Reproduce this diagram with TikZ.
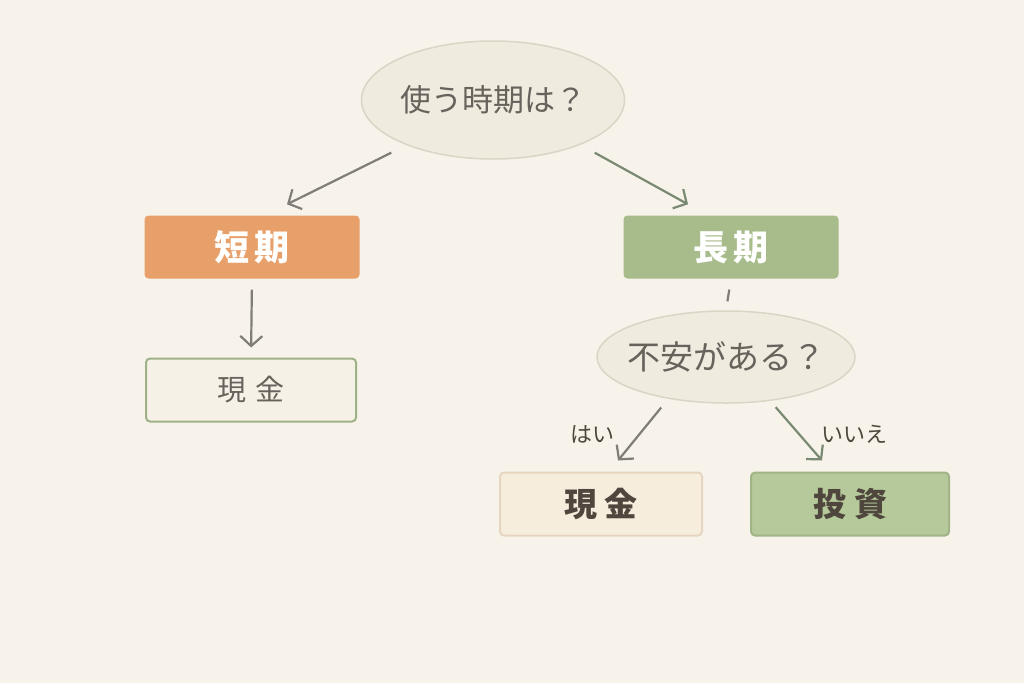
\documentclass[tikz,border=0pt]{standalone}
\usepackage{fontspec}
\usepackage{tikz}
\usetikzlibrary{shapes.geometric}
\usetikzlibrary{arrows.meta}
\newfontfamily\jpfont{Noto Sans CJK JP}

\definecolor{paper}{HTML}{F7F3EB}
\definecolor{bubblefill}{HTML}{F0EBDF}
\definecolor{bubbleline}{HTML}{DCD5C5}
\definecolor{softtext}{HTML}{67625C}
\definecolor{darktext}{HTML}{4F463D}
\definecolor{arrowgray}{HTML}{807C77}
\definecolor{arrowgreen}{HTML}{7A8A72}
\definecolor{shortfill}{HTML}{E8A06B}
\definecolor{longfill}{HTML}{A8BC8B}
\definecolor{cashfill}{HTML}{F6F1E6}
\definecolor{cashline}{HTML}{9FB287}
\definecolor{safefill}{HTML}{F7EDDD}
\definecolor{safeline}{HTML}{E6D6BF}
\definecolor{investfill}{HTML}{B6C99A}
\definecolor{investline}{HTML}{A0B487}

\tikzset{
  question/.style={ellipse, draw=bubbleline, line width=1.5pt, fill=bubblefill,
    inner sep=0pt, text=softtext, font=\jpfont\fontsize{31}{34}\selectfont},
  choice/.style={rectangle, rounded corners=4pt, inner sep=0pt,
    minimum height=63pt, text=white, font=\jpfont\bfseries\fontsize{35}{38}\selectfont},
  result/.style={rectangle, rounded corners=4pt, inner sep=0pt, line width=2pt,
    minimum height=63pt},
  arr/.style={line width=2.2pt, arrowgray, -{Straight Barb[length=10pt,width=22pt]}},
  answer/.style={inner sep=0pt, text=darktext, font=\jpfont\fontsize{22}{25}\selectfont}
}

\begin{document}
\begin{tikzpicture}[x=1pt,y=-1pt]
  \fill[paper] (0,0) rectangle (1024,683);
  \useasboundingbox (0,0) rectangle (1024,683);

  % first question
  \node[question, minimum width=262pt, minimum height=118pt] (when) at (493,100) {使う時期は？};

  \node[choice, fill=shortfill, minimum width=215pt] (short) at (252,247) {短\hspace{5pt}期};
  \node[choice, fill=longfill, minimum width=215pt] (long) at (731,247) {長\hspace{5pt}期};

  \node[result, draw=cashline, fill=cashfill, minimum width=210pt, text=softtext,
    font=\jpfont\fontsize{29}{31}\selectfont] (cashshort) at (251,390) {現\hspace{10pt}金};

  % second question
  \node[question, inner xsep=-9pt, minimum width=258pt, minimum height=92pt,
    font=\jpfont\fontsize{33}{35}\selectfont] (worry) at (726,357) {不安がある？};

  \node[result, draw=safeline, fill=safefill, minimum width=202pt, text=darktext,
    font=\jpfont\bfseries\fontsize{33}{35}\selectfont] (cashlong) at (601,504) {現\hspace{8pt}金};
  \node[result, draw=investline, fill=investfill, minimum width=198pt, text=darktext,
    font=\jpfont\bfseries\fontsize{33}{35}\selectfont] (invest) at (850,504) {投\hspace{8pt}資};

  % connectors
  \draw[arr] ([shift={(-14pt,-8pt)}]when.207) -- ([shift={(35pt,11pt)}]short.north);
  \draw[arr, arrowgreen] ([shift={(14pt,-8pt)}]when.333) -- ([shift={(-43pt,11pt)}]long.north);
  \draw[arr, shorten <=11pt, shorten >=10pt] (short.south) -- (cashshort.north);
  \draw[line width=2.2pt, arrowgray, shorten <=11pt, shorten >=9pt] (long.south) -- (worry.north);
  \draw[arr] ([yshift=-10pt]worry.212) -- ([shift={(17pt,11pt)}]cashlong.north)
    node[answer, midway, left=24pt] (yes) {はい};
  \draw[arr, arrowgreen] ([yshift=-7pt]worry.319) -- ([shift={(-28pt,11pt)}]invest.north)
    node[answer, midway, right=22pt] (no) {いいえ};
\end{tikzpicture}
\end{document}
